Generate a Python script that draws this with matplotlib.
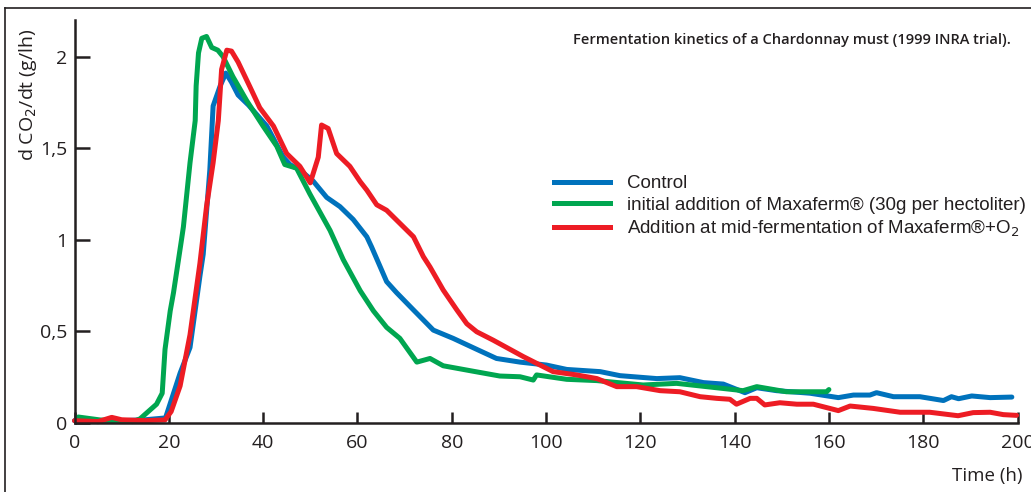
import matplotlib
matplotlib.use("Agg")
import matplotlib.pyplot as plt
from matplotlib.lines import Line2D

# ---- data ----
control_x = [0, 5, 10, 15, 19.3, 22.4, 24.5, 26.6, 27.3, 28.7, 29.4, 30.9, 32.1, 33.3, 34.7, 36.9,
             40.8, 44.3, 45.7, 47.8, 50.6, 53.5, 56.3, 59.1, 62, 63, 66.2, 68.3, 71.9, 76.1, 80.3,
             85.3, 89.5, 94.5, 100.1, 104.4, 111.5, 115.7, 123.5, 128.4, 133.4, 137.6, 142.2,
             144.7, 148.9, 156, 162, 165.2, 168.7, 170.1, 173.7, 179.3, 184.3, 186, 187.5, 190.3,
             194.2, 198.8]
control_y = [0.01, 0.005, 0.01, 0.015, 0.025, 0.27, 0.41, 0.8, 0.92, 1.38, 1.73, 1.84, 1.91, 1.86,
             1.79, 1.735, 1.62, 1.45, 1.41, 1.38, 1.32, 1.23, 1.18, 1.11, 1.015, 0.96, 0.77, 0.71,
             0.615, 0.505, 0.46, 0.40, 0.35, 0.33, 0.314, 0.29, 0.278, 0.256, 0.24, 0.245, 0.218,
             0.21, 0.163, 0.19, 0.174, 0.16, 0.136, 0.15, 0.15, 0.163, 0.141, 0.141, 0.12, 0.141,
             0.13, 0.145, 0.136, 0.139]

initial_x = [0.8, 5.4, 12.4, 13.9, 17.4, 18.6, 19.2, 20.3, 21, 22.7, 23.1, 24.5, 25.6, 25.8, 26.3,
             27, 28, 29.1, 30.4, 31.5, 33.6, 36.5, 40, 42.9, 44.6, 47.1, 49.9, 54.2, 57, 60.6,
             63.4, 66.2, 69, 72.6, 75.4, 78.2, 84.6, 90.2, 94.5, 97.3, 98, 104.4, 110.8, 120.6,
             127.7, 141.8, 144.7, 151, 159.5, 160]
initial_y = [0.03, 0.014, 0.005, 0.02, 0.10, 0.16, 0.40, 0.61, 0.71, 1.0, 1.07, 1.42, 1.65, 1.84,
             2.02, 2.10, 2.11, 2.05, 2.035, 2.0, 1.89, 1.76, 1.62, 1.51, 1.41, 1.39, 1.25, 1.05,
             0.89, 0.72, 0.61, 0.52, 0.46, 0.33, 0.35, 0.31, 0.28, 0.254, 0.25, 0.232, 0.26, 0.236,
             0.229, 0.205, 0.214, 0.174, 0.196, 0.168, 0.168, 0.18]

mid_x = [0, 5, 7.9, 10, 15, 19.2, 20.5, 22.4, 24.5, 26.6, 28, 29.4, 30.5, 31.2, 32.3, 33.3, 34.7,
         37.2, 39.3, 42.2, 45, 47.8, 50, 51.7, 52.4, 53.8, 55.6, 58.4, 60.6, 62, 64.1, 66.2, 71.9,
         74, 75.4, 78.2, 81.1, 83.2, 85.3, 88.8, 95.2, 101.5, 106.5, 110.8, 115, 119.2, 124.2,
         128.4, 132.7, 136.2, 139, 140.4, 143.3, 144.7, 146.4, 149.6, 153.2, 156.7, 162, 164.5,
         169.4, 175.1, 181.4, 187.4, 190.6, 194.2, 197, 199.8]
mid_y = [0.01, 0.005, 0.028, 0.015, 0.01, 0.014, 0.06, 0.2, 0.48, 0.87, 1.18, 1.42, 1.65, 1.93,
         2.035, 2.03, 1.97, 1.835, 1.72, 1.62, 1.47, 1.40, 1.31, 1.45, 1.626, 1.607, 1.47, 1.40,
         1.316, 1.27, 1.19, 1.16, 1.015, 0.906, 0.85, 0.724, 0.615, 0.54, 0.496, 0.45, 0.36,
         0.278, 0.26, 0.24, 0.196, 0.196, 0.174, 0.168, 0.141, 0.132, 0.127, 0.10, 0.132, 0.132,
         0.096, 0.108, 0.10, 0.10, 0.065, 0.09, 0.077, 0.056, 0.056, 0.037, 0.054, 0.056, 0.043,
         0.039]

series_labels = ["Control",
                 "initial addition of Maxaferm\u00ae (30g per hectoliter)",
                 "Addition at mid-fermentation of Maxaferm\u00ae+O$_2$"]
x_ticks = [0, 20, 40, 60, 80, 100, 120, 140, 160, 180, 200]
y_ticks = [0, 0.5, 1, 1.5, 2]
y_tick_labels = ["0", "0,5", "1", "1,5", "2"]
title = "Fermentation kinetics of a Chardonnay must (1999 INRA trial)."
y_label = "d CO$_2$/dt (g/lh)"
x_label = "Time (h)"

BLUE = "#0072BC"
GREEN = "#00A650"
RED = "#ED1C24"
TXT = "#231F20"

W, H = 1031, 492
fig = plt.figure(figsize=(W / 100, H / 100), dpi=100)
ax = fig.add_axes([74.5 / W, 1 - 422.5 / H, 943 / W, 402.5 / H])

lw = 3.6
common = dict(lw=lw, solid_capstyle="round", solid_joinstyle="round", clip_on=False)
ax.plot(control_x, control_y, color=BLUE, zorder=3, **common)
ax.plot(initial_x, initial_y, color=GREEN, zorder=4, **common)
ax.plot(mid_x, mid_y, color=RED, zorder=5, **common)

ax.set_xlim(0, 200)
ax.set_ylim(0, 2.2)
for s in ["top", "right"]:
    ax.spines[s].set_visible(False)
for s in ["left", "bottom"]:
    ax.spines[s].set_linewidth(1.8)
    ax.spines[s].set_color(TXT)
    ax.spines[s].set_zorder(6)

tick_font = "Open Sans"
ax.set_xticks(x_ticks)
ax.set_xticklabels([str(v) for v in x_ticks], fontsize=14, family=tick_font, color=TXT)
ax.set_yticks(y_ticks)
ax.set_yticklabels(y_tick_labels, fontsize=14, family=tick_font, color=TXT)
ax.tick_params(axis="x", direction="in", length=8, width=1.8, pad=8, color=TXT)
ax.tick_params(axis="y", direction="in", length=11, width=1.8, pad=5, color=TXT)

# axis labels
fig.text(28 / W, 1 - 95 / H, y_label, rotation=90, ha="center", va="center",
         fontsize=14, family=tick_font, color=TXT)
fig.text(1023 / W, 1 - 476 / H, x_label, ha="right", va="center",
         fontsize=13.5, family=tick_font, color=TXT)

# title
fig.text(573 / W, 1 - 40 / H, title, ha="left", va="center",
         fontsize=10.5, family=tick_font, weight="semibold", color=TXT)

# legend
handles = [Line2D([], [], color=c, lw=lw) for c in (BLUE, GREEN, RED)]
leg = fig.legend(handles, series_labels, loc="upper left",
                 bbox_to_anchor=(554 / W, 1 - 175 / H), frameon=False,
                 prop={"family": "Liberation Sans", "size": 13.5},
                 handlelength=3.0, handletextpad=0.9, labelspacing=0.25,
                 borderpad=0, borderaxespad=0)
for t in leg.get_texts():
    t.set_color(TXT)

# frame lines (top and left) around the figure
fig.add_artist(Line2D([5 / W, 1], [1 - 8 / H, 1 - 8 / H], color=TXT, lw=1.2))
fig.add_artist(Line2D([5 / W, 5 / W], [0, 1 - 8 / H], color=TXT, lw=1.2))

fig.savefig("out.png", dpi=100)
